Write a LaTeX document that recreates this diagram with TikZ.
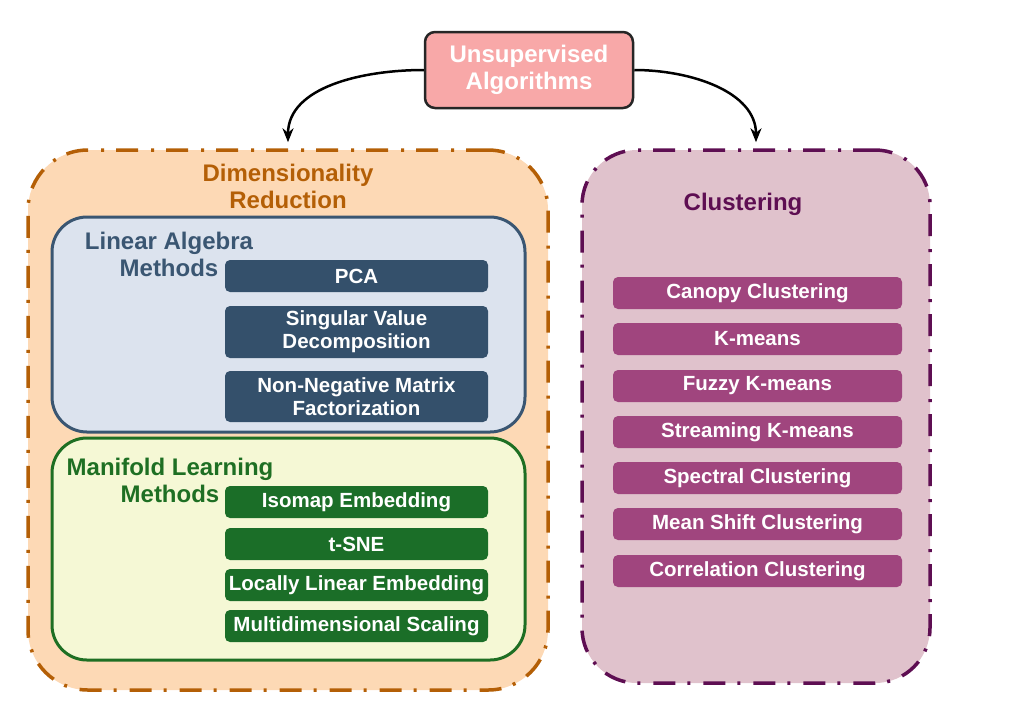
\documentclass[tikz,border=0pt]{standalone}
\usepackage{fontspec}
\setmainfont{Liberation Sans}
\usetikzlibrary{arrows.meta}

\definecolor{topfill}{HTML}{F8A8A8}
\definecolor{dimfill}{HTML}{FDD9B5}
\definecolor{dimline}{HTML}{B45F06}
\definecolor{linfill}{HTML}{DCE3EE}
\definecolor{linline}{HTML}{3A5672}
\definecolor{linitem}{HTML}{34506B}
\definecolor{manfill}{HTML}{F5F8D5}
\definecolor{manline}{HTML}{1E6F23}
\definecolor{manitem}{HTML}{1B6E28}
\definecolor{clfill}{HTML}{E0C2CC}
\definecolor{clline}{HTML}{5E0E52}
\definecolor{clitem}{HTML}{A0457E}

\tikzset{
	head/.style={font=\fontsize{24}{27}\selectfont\bfseries, align=center},
	item/.style={font=\fontsize{20.5}{23}\selectfont\bfseries, text=white, align=center,
		rounded corners=5pt, inner sep=0pt, minimum height=32pt},
	group/.style={line width=3.5pt, dash pattern=on 22pt off 12pt on 3pt off 13pt},
	inner/.style={line width=3pt, rounded corners=35pt, inner sep=0pt},
	link/.style={line width=2.5pt, -{Stealth[length=14pt,width=11pt]}, shorten >=6pt},
}

\begin{document}
\begin{tikzpicture}[x=1pt,y=-1pt]
	\useasboundingbox (0,0) rectangle (1024,724);
	% outer groups
	\node[group, draw=dimline, fill=dimfill, rounded corners=60pt, minimum width=520pt, minimum height=540pt] (dimred) at (288,420) {};
	\node[group, draw=clline, fill=clfill, rounded corners=55pt, minimum width=348pt, minimum height=533pt] (clust) at (756,416.5) {};
	\node[head, text=dimline] (dimlabel) at (288,186) {Dimensionality\\Reduction};
	\node[head, text=clline] (cllabel) at (743,204) {Clustering};

	% linear algebra methods
	\node[inner, draw=linline, fill=linfill, minimum width=473pt, minimum height=215pt] (linear) at (288.5,324.5) {};
	\node[head, text=linline] (linlabel) at (169,254) {Linear Algebra\\Methods};
	\node[item, fill=linitem, minimum width=263pt] (pca) at (356.5,276) {PCA};
	\node[item, fill=linitem, minimum width=263pt, minimum height=52pt] (svd) at (356.5,332) {Singular Value\\Decomposition};
	\node[item, fill=linitem, minimum width=263pt, minimum height=51pt] (nmf) at (356.5,396.5) {Non-Negative Matrix\\Factorization};

	% manifold learning methods
	\node[inner, draw=manline, fill=manfill, minimum width=473pt, minimum height=222pt] (manifold) at (288.5,549) {};
	\node[head, text=manline] (manlabel) at (170,480) {Manifold Learning\\Methods};
	\node[item, fill=manitem, minimum width=263pt] (isomap) at (356.5,502) {Isomap Embedding};
	\node[item, fill=manitem, minimum width=263pt] (tsne) at (356.5,544) {t-SNE};
	\node[item, fill=manitem, minimum width=263pt] (lle) at (356.5,585) {Locally Linear Embedding};
	\node[item, fill=manitem, minimum width=263pt] (mds) at (356.5,626) {Multidimensional Scaling};

	% clustering
	\node[item, fill=clitem, minimum width=289pt] (canopy) at (757.5,293) {Canopy Clustering};
	\node[item, fill=clitem, minimum width=289pt] (kmeans) at (757.5,339) {K-means};
	\node[item, fill=clitem, minimum width=289pt] (fuzzy) at (757.5,386) {Fuzzy K-means};
	\node[item, fill=clitem, minimum width=289pt] (stream) at (757.5,432) {Streaming K-means};
	\node[item, fill=clitem, minimum width=289pt] (spectral) at (757.5,478) {Spectral Clustering};
	\node[item, fill=clitem, minimum width=289pt] (meanshift) at (757.5,524) {Mean Shift Clustering};
	\node[item, fill=clitem, minimum width=289pt] (corr) at (757.5,571) {Correlation Clustering};

	% root
	\node[head, text=white, fill=topfill, draw=black!85, line width=2.5pt, rounded corners=10pt,
		minimum width=208pt, minimum height=76pt, inner sep=0pt] (root) at (529,70) {Unsupervised\\Algorithms};
	\draw[link] (root.west) to[out=180,in=90] (dimred.north);
	\draw[link] (root.east) to[out=0,in=90] (clust.north);
\end{tikzpicture}
\end{document}
